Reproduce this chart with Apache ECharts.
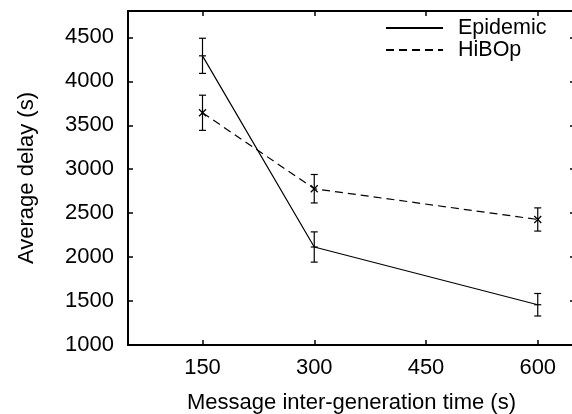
<!DOCTYPE html>
<html>
<head>
<meta charset="utf-8">
<script src="https://cdn.jsdelivr.net/npm/echarts@6/dist/echarts.min.js"></script>
<style>
html,body{margin:0;padding:0;background:#fff;}
#chart{width:572px;height:414px;}
</style>
</head>
<body>
<div id="chart"></div>
<script>
const xValues = [150, 300, 600];
const xTicks = [150, 300, 450, 600];
const yTicks = [1000, 1500, 2000, 2500, 3000, 3500, 4000, 4500];
const epidemicDelay = [4290, 2115, 1458];
const epidemicErr = [200, 172, 128];
const hibopDelay = [3642, 2778, 2428];
const hibopErr = [200, 162, 132];

const FONT = 'Liberation Sans';
const chart = echarts.init(document.getElementById('chart'), null, {renderer: 'canvas'});

function pairs(xs, ys) { return xs.map((x, i) => [x, ys[i]]); }
function triples(xs, ys, es) { return xs.map((x, i) => [x, ys[i], es[i]]); }

function errRender(marker) {
  return function (params, api) {
    const x = api.value(0), y = api.value(1), e = api.value(2);
    const p = api.coord([x, y]);
    const hi = api.coord([x, y + e]);
    const lo = api.coord([x, y - e]);
    const cw = 3.5, m = 3.5;
    const st = {stroke: '#000', lineWidth: 1.2, fill: null};
    const children = [
      {type: 'line', shape: {x1: hi[0], y1: hi[1], x2: lo[0], y2: lo[1]}, style: st},
      {type: 'line', shape: {x1: hi[0] - cw, y1: hi[1], x2: hi[0] + cw, y2: hi[1]}, style: st},
      {type: 'line', shape: {x1: lo[0] - cw, y1: lo[1], x2: lo[0] + cw, y2: lo[1]}, style: st}
    ];
    if (marker === 'plus') {
      children.push({type: 'line', shape: {x1: p[0] - m, y1: p[1], x2: p[0] + m, y2: p[1]}, style: st});
    } else {
      children.push({type: 'line', shape: {x1: p[0] - m, y1: p[1] - m, x2: p[0] + m, y2: p[1] + m}, style: st});
      children.push({type: 'line', shape: {x1: p[0] - m, y1: p[1] + m, x2: p[0] + m, y2: p[1] - m}, style: st});
    }
    return {type: 'group', children: children};
  };
}

const axisLineStyle = {color: '#000', width: 2};
const labelStyle = {color: '#000', fontFamily: FONT, fontSize: 22};
const plain = v => String(v);

const option = {
  animation: false,
  backgroundColor: '#fff',
  grid: {left: 128, top: 11, width: 447, height: 334, show: false, outerBoundsMode: 'none', containLabel: false},
  legend: {
    orient: 'vertical',
    left: 380,
    top: 12,
    itemWidth: 57,
    itemHeight: 14,
    itemGap: 0,
    data: ['Epidemic', 'HiBOp'],
    itemStyle: {opacity: 0},
    textStyle: {color: '#000', fontFamily: FONT, fontSize: 21.5, lineHeight: 22, padding: [0, 0, 0, 10]}
  },
  xAxis: [{
    type: 'value', min: 50, max: 650, position: 'bottom',
    name: 'Message inter-generation time (s)', nameLocation: 'middle', nameGap: 47,
    nameTextStyle: labelStyle,
    axisLine: {show: true, onZero: false, lineStyle: axisLineStyle},
    axisTick: {show: true, inside: true, length: 5, customValues: xTicks, lineStyle: {color: '#000', width: 1.5}},
    axisLabel: {show: true, customValues: xTicks, margin: 12, formatter: plain, ...labelStyle},
    splitLine: {show: false}
  }, {
    type: 'value', min: 50, max: 650, position: 'top',
    axisLine: {show: true, onZero: false, lineStyle: axisLineStyle},
    axisTick: {show: true, inside: true, length: 5, customValues: xTicks, lineStyle: {color: '#000', width: 1.5}},
    axisLabel: {show: false},
    splitLine: {show: false}
  }],
  yAxis: [{
    type: 'value', min: 1000, max: 4800, position: 'left',
    name: 'Average delay (s)', nameLocation: 'middle', nameGap: 90,
    nameTextStyle: labelStyle,
    axisLine: {show: true, onZero: false, lineStyle: axisLineStyle},
    axisTick: {show: true, inside: true, length: 5, customValues: yTicks, lineStyle: {color: '#000', width: 1.5}},
    axisLabel: {show: true, customValues: yTicks, margin: 14, formatter: plain, ...labelStyle},
    splitLine: {show: false}
  }, {
    type: 'value', min: 1000, max: 4800, position: 'right',
    axisLine: {show: false},
    axisTick: {show: true, inside: true, length: 5, customValues: yTicks, lineStyle: {color: '#000', width: 1.5}},
    axisLabel: {show: false},
    splitLine: {show: false}
  }],
  series: [
    {
      name: 'Epidemic', type: 'line', xAxisIndex: 0, yAxisIndex: 0,
      data: pairs(xValues, epidemicDelay), symbol: 'none',
      lineStyle: {color: '#000', width: 1.2, type: 'solid'},
      itemStyle: {color: '#000'}
    },
    {
      name: 'HiBOp', type: 'line', xAxisIndex: 0, yAxisIndex: 0,
      data: pairs(xValues, hibopDelay), symbol: 'none',
      lineStyle: {color: '#000', width: 1.2, type: [8, 5]},
      itemStyle: {color: '#000'}
    },
    {
      name: 'Epidemic error', type: 'custom', xAxisIndex: 0, yAxisIndex: 0,
      data: triples(xValues, epidemicDelay, epidemicErr),
      renderItem: errRender('plus'), encode: {x: 0, y: [1]}
    },
    {
      name: 'HiBOp error', type: 'custom', xAxisIndex: 0, yAxisIndex: 0,
      data: triples(xValues, hibopDelay, hibopErr),
      renderItem: errRender('cross'), encode: {x: 0, y: [1]}
    }
  ]
};
chart.setOption(option);
</script>
</body>
</html>
